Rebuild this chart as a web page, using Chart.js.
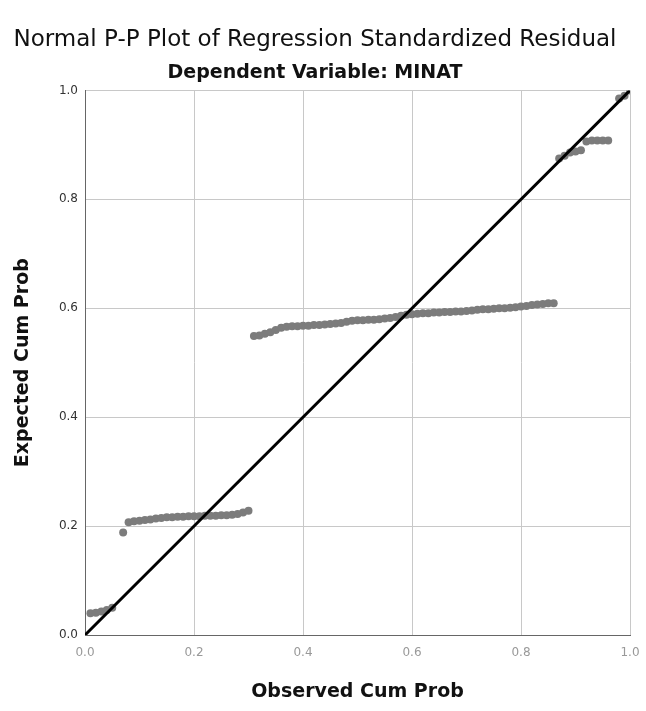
<!DOCTYPE html>
<html>
    <head>
        <script src="https://cdn.jsdelivr.net/npm/chart.js"></script>
        <style>
            body { margin: 0; background: white; }
            #wrap { width: 646px; height: 711px; }
        </style>
    </head>
    <body>
        <div id="wrap">
            <canvas id="myChart" width="646" height="711"></canvas>
        </div>
        <script>
            // observed cum prob (x) and expected cum prob (y)
            const observed = [
                0.01, 0.02, 0.03, 0.04, 0.05,
                0.07,
                0.08, 0.09, 0.10, 0.11, 0.12, 0.13, 0.14, 0.15, 0.16, 0.17, 0.18, 0.19,
                0.20, 0.21, 0.22, 0.23, 0.24, 0.25, 0.26, 0.27, 0.28, 0.29, 0.30,
                0.31, 0.32, 0.33, 0.34, 0.35, 0.36, 0.37, 0.38, 0.39, 0.40,
                0.41, 0.42, 0.43, 0.44, 0.45, 0.46, 0.47, 0.48, 0.49, 0.50,
                0.51, 0.52, 0.53, 0.54, 0.55, 0.56, 0.57, 0.58, 0.59, 0.60,
                0.61, 0.62, 0.63, 0.64, 0.65, 0.66, 0.67, 0.68, 0.69, 0.70,
                0.71, 0.72, 0.73, 0.74, 0.75, 0.76, 0.77, 0.78, 0.79, 0.80,
                0.81, 0.82, 0.83, 0.84, 0.85, 0.86,
                0.87, 0.88, 0.89, 0.90, 0.91,
                0.92, 0.93, 0.94, 0.95, 0.96,
                0.98, 0.99, 1.00
            ]
            const expected = [
                0.040, 0.041, 0.043, 0.046, 0.050,
                0.188,
                0.207, 0.209, 0.210, 0.211, 0.212, 0.214, 0.215, 0.216, 0.216, 0.217, 0.217, 0.218,
                0.218, 0.218, 0.219, 0.219, 0.219, 0.220, 0.220, 0.221, 0.222, 0.225, 0.228,
                0.549, 0.550, 0.553, 0.556, 0.560, 0.564, 0.566, 0.567, 0.567, 0.568,
                0.568, 0.569, 0.569, 0.570, 0.571, 0.572, 0.573, 0.575, 0.577, 0.578,
                0.578, 0.579, 0.579, 0.580, 0.581, 0.582, 0.584, 0.586, 0.588, 0.589,
                0.590, 0.591, 0.591, 0.592, 0.592, 0.593, 0.593, 0.594, 0.594, 0.595,
                0.596, 0.597, 0.598, 0.598, 0.599, 0.600, 0.600, 0.601, 0.602, 0.603,
                0.604, 0.606, 0.607, 0.608, 0.609, 0.609,
                0.875, 0.880, 0.886, 0.888, 0.890,
                0.906, 0.908, 0.908, 0.908, 0.908,
                0.985, 0.990, 1.000
            ]
            const refLine = [0, 1]
            const tickValues = [0.0, 0.2, 0.4, 0.6, 0.8, 1.0]

            const points = observed.map((x, i) => ({x: x, y: expected[i]}))
            const diag = refLine.map(v => ({x: v, y: v}))

            const font = 'DejaVu Sans, Verdana, sans-serif'

            const ctx = document.getElementById('myChart');
            new Chart(ctx, {
                type: 'scatter',
                data: {
                    datasets: [{
                        data: points,
                        pointRadius: 4,
                        pointHoverRadius: 4,
                        borderWidth: 0,
                        backgroundColor: '#7c7c7c',
                        order: 2
                    }, {
                        type: 'line',
                        data: diag,
                        borderColor: 'black',
                        borderWidth: 3,
                        pointRadius: 0,
                        fill: false,
                        order: 1
                    }]
                },
                options: {
                    responsive: false,
                    animation: false,
                    layout: { padding: { left: 0, right: 16, top: 0, bottom: 0 } },
                    plugins: {
                        legend: { display: false },
                        tooltip: { enabled: false },
                        title: {
                            display: true,
                            text: 'Normal P-P Plot of Regression Standardized Residual',
                            color: '#111',
                            font: { family: font, size: 23, weight: 'normal' },
                            padding: { top: 26, bottom: 8 }
                        },
                        subtitle: {
                            display: true,
                            text: 'Dependent Variable: MINAT',
                            color: '#111',
                            font: { family: font, size: 19, weight: 'bold' },
                            padding: { top: 0, bottom: 6 }
                        }
                    },
                    scales: {
                        x: {
                            type: 'linear',
                            min: 0,
                            max: 1,
                            afterFit: (s) => { s.height = 76; s.paddingLeft = 0; s.paddingRight = 0 },
                            afterBuildTicks: (s) => { s.ticks = tickValues.map(v => ({value: v})) },
                            ticks: {
                                padding: 11,
                                color: '#999',
                                font: { family: font, size: 12 },
                                callback: (v) => v.toFixed(1)
                            },
                            grid: { color: '#c8c8c8', drawTicks: false },
                            border: { color: '#666', width: 1 },
                            title: {
                                display: true,
                                text: 'Observed Cum Prob',
                                color: '#111',
                                font: { family: font, size: 19, weight: 'bold' },
                                padding: { top: 0, bottom: 8 }
                            }
                        },
                        y: {
                            type: 'linear',
                            min: 0,
                            max: 1,
                            afterFit: (s) => { s.width = 85; s.paddingTop = 0; s.paddingBottom = 0 },
                            afterBuildTicks: (s) => { s.ticks = tickValues.map(v => ({value: v})) },
                            ticks: {
                                padding: 7,
                                color: '#333',
                                font: { family: font, size: 12 },
                                callback: (v) => v.toFixed(1)
                            },
                            grid: { color: '#c8c8c8', drawTicks: false },
                            border: { color: '#666', width: 1 },
                            title: {
                                display: true,
                                text: 'Expected Cum Prob',
                                color: '#111',
                                font: { family: font, size: 19, weight: 'bold' },
                                padding: { top: 12, bottom: 0 }
                            }
                        }
                    }
                }
            });
        </script>
    </body>
</html>
